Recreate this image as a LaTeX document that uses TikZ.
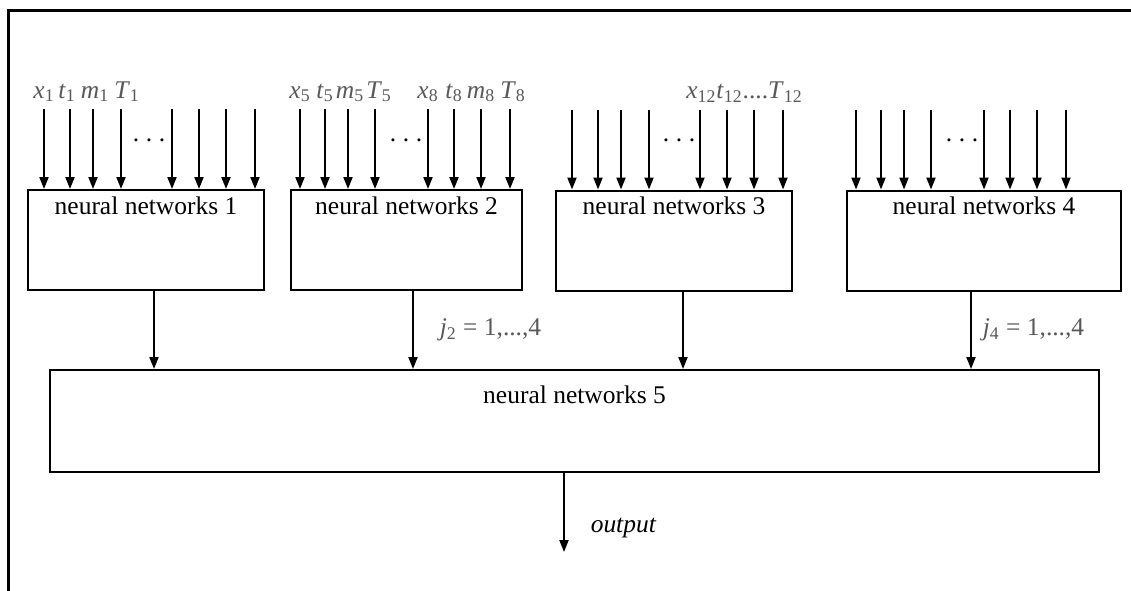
\documentclass[tikz,border=0pt]{standalone}
\usepackage{fontspec}
\setmainfont{Liberation Serif}
\usetikzlibrary{arrows.meta,positioning,calc}
\newcommand{\insym}[2]{\textit{#1}\textsubscript{#2}}

\begin{document}
\begin{tikzpicture}[
    >={Triangle[length=0.24cm,width=0.18cm]},
    font=\fontsize{14.5}{17}\selectfont,
    net/.style={draw, line width=0.04cm, inner xsep=0pt, inner ysep=0pt,
                minimum height=2cm, text height=0.48cm, text depth=1.52cm},
    feed/.style={->, line width=0.036cm},
    sym/.style={text=black!65, inner sep=0pt, anchor=base},
    dots/.style={inner sep=0pt, anchor=base}
  ]
  \useasboundingbox (0,0) rectangle (22.62,-11.8);

  % page frame
  \draw[line width=0.06cm] (0.18,-11.9) -- (0.18,-0.2) -- (22.7,-0.2);

  \node[net, minimum width=4.72cm] (n1) at (2.92,-4.80)  {neural networks 1};
  \node[net, minimum width=4.62cm] (n2) at (8.13,-4.80)  {neural networks 2};
  \node[net, minimum width=4.72cm] (n3) at (13.48,-4.81) {neural networks 3};
  \node[net, minimum width=5.48cm] (n4) at (19.68,-4.81) {neural networks 4};
  \node[net, minimum width=20.98cm, minimum height=2.04cm,
        text height=0.66cm, text depth=1.38cm] (n5) at (11.49,-8.42) {neural networks 5};

  % inputs of each sub-network
  \foreach \dx [count=\i] in {0.34,0.86,1.32,1.88,2.90,3.44,3.98,4.56}{
    \coordinate (a1-\i) at ([shift={(\dx,1.6)}]n1.north west);
    \draw[feed] (a1-\i) -- (a1-\i |- n1.north);
    \coordinate (a3-\i) at ([shift={(\dx,1.6)}]n3.north west);
    \draw[feed] (a3-\i) -- (a3-\i |- n3.north);
  }
  \foreach \dx [count=\i] in {0.20,0.70,1.16,1.70,2.76,3.28,3.82,4.40}{
    \coordinate (a2-\i) at ([shift={(\dx,1.6)}]n2.north west);
    \draw[feed] (a2-\i) -- (a2-\i |- n2.north);
    \coordinate (a4-\i) at ([shift={(\dx,1.6)}]n4.north west);
    \draw[feed] (a4-\i) -- (a4-\i |- n4.north);
  }

  \node[dots] (d1) at ([shift={(2.44,0.96)}]n1.north west) {.\kern3.8pt.\kern3.8pt.};
  \node[dots] (d2) at ([shift={(2.32,0.96)}]n2.north west) {.\kern3.8pt.\kern3.8pt.};
  \node[dots] (d3) at ([shift={(2.48,0.96)}]n3.north west) {.\kern3.8pt.\kern3.8pt.};
  \node[dots] (d4) at ([shift={(2.32,0.96)}]n4.north west) {.\kern3.8pt.\kern3.8pt.};

  % input labels
  \node[sym] (x1) at ([yshift=0.22cm]a1-1) {\insym{x}{1}};
  \node[sym] (t1) at ([shift={(-0.06,0.22)}]a1-2) {\insym{t}{1}};
  \node[sym] (m1) at ([shift={(0.04,0.22)}]a1-3) {\insym{m}{1}};
  \node[sym] (T1) at ([shift={(0.12,0.22)}]a1-4) {\insym{T}{1}};

  \node[sym] (x5) at ([yshift=0.22cm]a2-1) {\insym{x}{5}};
  \node[sym] (t5) at ([yshift=0.22cm]a2-2) {\insym{t}{5}};
  \node[sym] (m5) at ([shift={(0.04,0.22)}]a2-3) {\insym{m}{5}};
  \node[sym] (T5) at ([shift={(0.08,0.22)}]a2-4) {\insym{T}{5}};
  \node[sym] (x8) at ([yshift=0.22cm]a2-5) {\insym{x}{8}};
  \node[sym] (t8) at ([yshift=0.22cm]a2-6) {\insym{t}{8}};
  \node[sym] (m8) at ([yshift=0.22cm]a2-7) {\insym{m}{8}};
  \node[sym] (T8) at ([shift={(0.06,0.22)}]a2-8) {\insym{T}{8}};

  \node[sym, anchor=base west] (x12) at ([shift={(-0.28,0.22)}]a3-5)
    {\insym{x}{12}\insym{t}{12}....\insym{T}{12}};

  % into the combining network
  \draw[feed] ([xshift=0.16cm]n1.south) -- ([xshift=0.16cm]n1.south |- n5.north);
  \draw[feed] ([xshift=0.13cm]n2.south) -- ([xshift=0.13cm]n2.south |- n5.north)
    node[pos=0.5, sym, anchor=west, xshift=0.52cm] (j2) {\insym{j}{2} = 1,...,4};
  \draw[feed] ([xshift=0.18cm]n3.south) -- ([xshift=0.18cm]n3.south |- n5.north);
  \draw[feed] ([xshift=-0.26cm]n4.south) -- ([xshift=-0.26cm]n4.south |- n5.north)
    node[pos=0.5, sym, anchor=west, xshift=0.22cm] (j4) {\insym{j}{4} = 1,...,4};

  \coordinate (out) at (11.28,-11.04);
  \draw[feed] (n5.south -| out) -- (out)
    node[pos=0.7, right=0.4cm] (outlbl) {\textit{output}};
\end{tikzpicture}
\end{document}
